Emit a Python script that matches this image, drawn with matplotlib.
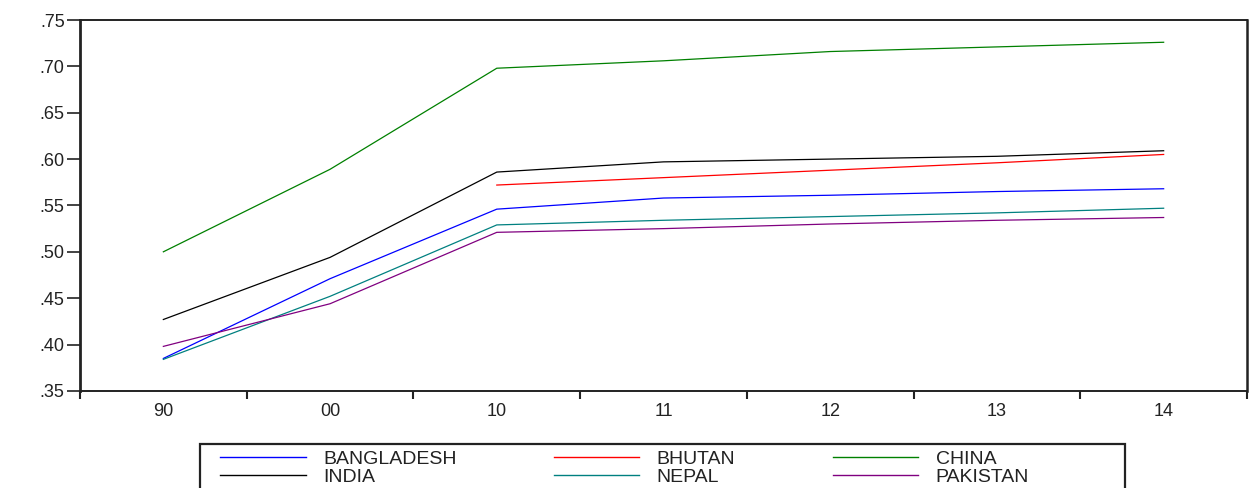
import numpy as np
import matplotlib
matplotlib.use("Agg")
import matplotlib.pyplot as plt
from matplotlib.patches import Rectangle
from matplotlib.ticker import FixedLocator, FuncFormatter

plt.rcParams['font.family'] = ['Liberation Sans', 'DejaVu Sans']

# x categories (years)
years = ["90", "00", "10", "11", "12", "13", "14"]

# series values (nan = no data)
bangladesh = [0.385, 0.471, 0.546, 0.558, 0.561, 0.565, 0.568]
bhutan = [np.nan, np.nan, 0.572, 0.580, 0.588, 0.596, 0.605]
china = [0.500, 0.589, 0.698, 0.706, 0.716, 0.721, 0.726]
india = [0.427, 0.494, 0.586, 0.597, 0.600, 0.603, 0.609]
nepal = [0.384, 0.452, 0.529, 0.534, 0.538, 0.542, 0.547]
pakistan = [0.398, 0.444, 0.521, 0.525, 0.530, 0.534, 0.537]

# ordered column-wise so the 3-column legend reads row by row
series = [
    ("BANGLADESH", bangladesh, "#0000ff"),
    ("INDIA", india, "#000000"),
    ("BHUTAN", bhutan, "#ff0000"),
    ("NEPAL", nepal, "#008080"),
    ("CHINA", china, "#008000"),
    ("PAKISTAN", pakistan, "#800080"),
]

fig = plt.figure(figsize=(12.5, 4.88), dpi=100)
ax = fig.add_axes([0.064, 0.199, 0.9336, 0.760])

x = np.arange(len(years))
for name, vals, col in series:
    ax.plot(x, vals, color=col, linewidth=0.9, label=name)

ax.set_xlim(-0.5, len(years) - 0.5)
ax.set_ylim(0.35, 0.75)

# category labels centred, tick marks on the boundaries
ax.set_xticks(x)
ax.set_xticklabels(years)
ax.xaxis.set_minor_locator(FixedLocator(np.arange(-0.5, len(years), 1.0)))
ax.tick_params(axis='x', which='major', length=0, pad=9, labelsize=13, labelcolor='#222222')
ax.tick_params(axis='x', which='minor', length=5.5, width=1.5, direction='out', color='#222222')

ax.set_yticks(np.arange(0.35, 0.7501, 0.05))
ax.yaxis.set_major_formatter(FuncFormatter(lambda v, p: f"{v:.2f}".lstrip('0')))
ax.tick_params(axis='y', length=9.5, width=1.2, direction='out', labelsize=13,
               labelcolor='#222222', color='#222222', pad=1.5)

for side in ['left', 'bottom', 'top', 'right']:
    ax.spines[side].set_color('#222222')
ax.spines['left'].set_linewidth(2)
ax.spines['right'].set_linewidth(1.8)
ax.spines['bottom'].set_linewidth(1.4)
ax.spines['top'].set_linewidth(1.4)

# legend box runs off the bottom edge of the picture
box = Rectangle((200 / 1250, -0.1), 925 / 1250, 0.1 + 44 / 488, transform=fig.transFigure,
                fill=False, edgecolor='#222222', linewidth=1.6, clip_on=False)
fig.patches.append(box)

leg = fig.legend(loc='upper left', bbox_to_anchor=(220 / 1250, 1 - 450 / 488), ncol=3,
                 fontsize=14, frameon=False, handlelength=4.4, handletextpad=0.9,
                 columnspacing=5.0, labelspacing=0.05, borderpad=0, borderaxespad=0)
for line in leg.get_lines():
    line.set_linewidth(1.0)
for t in leg.get_texts():
    t.set_color('#222222')

fig.savefig("out.png", dpi=100)
